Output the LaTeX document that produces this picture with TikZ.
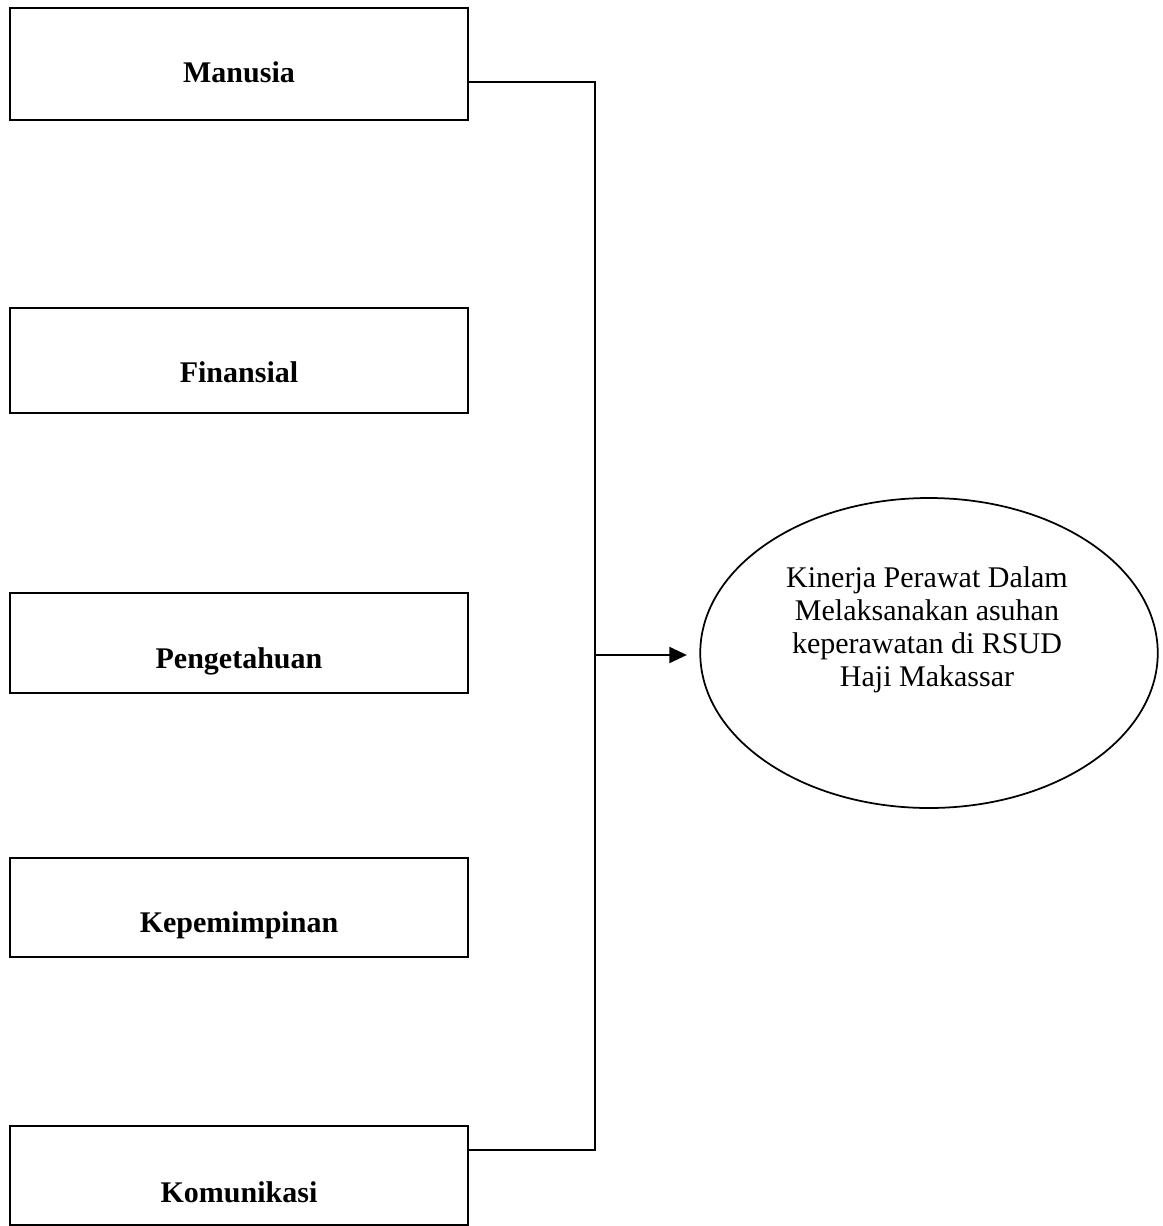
\documentclass[tikz,border=0pt]{standalone}
\usepackage{fontspec}
\setmainfont{Liberation Serif}
\usetikzlibrary{shapes.geometric, arrows.meta, positioning}

\tikzset{
  factor/.style={draw, line width=0.8pt, minimum width=183.2pt, minimum height=#1, inner sep=0pt},
  factorlabel/.style={anchor=base, font=\fontsize{12}{14}\selectfont\bfseries},
  outcome/.style={draw, ellipse, line width=0.7pt, minimum width=183pt, minimum height=124pt, inner sep=0pt},
  link/.style={line width=0.8pt},
}

\begin{document}
\begin{tikzpicture}[x=0.4pt, y=-0.4pt]
\useasboundingbox (0,0) rectangle (1162,1226);

% factor boxes
\node[factor=44.8pt] (manusia) at (239,64) {};
\node[factor=42pt] (finansial) at (239,360.5) {};
\node[factor=40pt] (pengetahuan) at (239,643) {};
\node[factor=39.6pt] (kepemimpinan) at (239,907.5) {};
\node[factor=39.6pt] (komunikasi) at (239,1175) {};

\node[factorlabel] (manusialbl) at (239,82) {Manusia};
\node[factorlabel] (finansiallbl) at (239,382) {Finansial};
\node[factorlabel] (pengetahuanlbl) at (239,668) {Pengetahuan};
\node[factorlabel] (kepemimpinanlbl) at (239,932) {Kepemimpinan};
\node[factorlabel] (komunikasilbl) at (239,1202) {Komunikasi};

% outcome
\node[outcome] (kinerja) at (929,653) {};
\node[align=center, font=\fontsize{12}{13.2}\selectfont] (kinerjalbl) at (927,630)
  {Kinerja Perawat Dalam\\Melaksanakan asuhan\\keperawatan di RSUD\\Haji Makassar};

% connectors
\coordinate (topbend) at (595,82);
\coordinate (botbend) at (595,1150);
\coordinate (junct) at (595,655);
\draw[link] (manusia.east |- topbend) -- (topbend) -- (botbend) -- (komunikasi.east |- botbend);
\draw[link, -{Triangle[length=7pt, width=6.4pt]}, shorten >=5pt] (junct) -- (kinerja.west |- junct);
\end{tikzpicture}
\end{document}
